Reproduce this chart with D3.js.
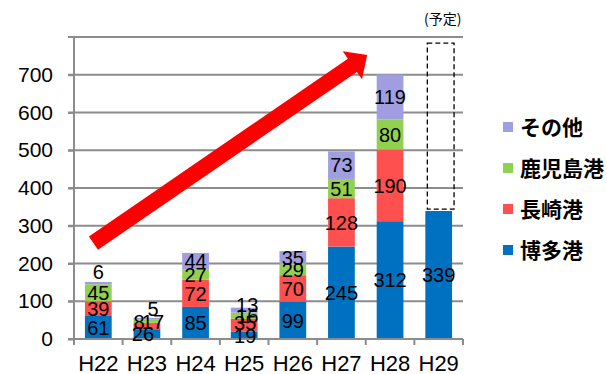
<!DOCTYPE html>
<html>
<head>
<meta charset="utf-8">
<script src="https://cdn.jsdelivr.net/npm/d3@7"></script>
<style>
  body { margin: 0; background: #fff; }
  svg { display: block; font-family: "Liberation Sans", Arial, sans-serif; }
</style>
</head>
<body>
<svg id="chart" width="607" height="374"></svg>
<script>
var categories = ['H22', 'H23', 'H24', 'H25', 'H26', 'H27', 'H28', 'H29'];
var hakata    = [61, 26, 85, 19, 99, 245, 312, 339];
var nagasaki  = [39, 17, 72, 35, 70, 128, 190, null];
var kagoshima = [45, 8, 27, 16, 29, 51, 80, null];
var other     = [6, 5, 44, 13, 35, 73, 119, null];
var seriesNames = ['博多港', '長崎港', '鹿児島港', 'その他'];
var seriesColors = ['#0070c0', '#ff5050', '#92d050', '#a09ee0'];
var yTicks = [0, 100, 200, 300, 400, 500, 600, 700];
var gridTicks = [100, 200, 300, 400, 500, 600, 700, 800];
var planTotal = 784;      // dashed H29 frame
var planLabel = '(予定)';

// a few labels were nudged by hand in the original
var nudge = {
	'H22-3': [0, -11],
	'H23-0': [-4, 0],
	'H23-1': [6, -4],
	'H23-2': [-8, 1],
	'H23-3': [6, -10],
	'H25-0': [1, 0],
	'H25-1': [1, -2],
	'H25-2': [3, 0],
	'H25-3': [3, -5]
};

var series = [hakata, nagasaki, kagoshima, other];
var rows = categories.map((c, i) => {
	var r = {cat: c};
	series.forEach((s, k) => r[k] = s[i] || 0);
	return r;
});

var svg = d3.select('#chart');

var x = d3.scaleBand()
	.domain(categories)
	.range([74, 463])
	.paddingInner(0.45)
	.paddingOuter(0.225);

var y = d3.scaleLinear()
	.domain([0, 800])
	.range([339, 37]);

var gray = '#8c8c8c';

// gridlines
svg.append('g')
	.selectAll('line')
	.data(gridTicks)
	.enter()
	.append('line')
	.attr('x1', 68)
	.attr('x2', 463)
	.attr('y1', d => y(d))
	.attr('y2', d => y(d))
	.attr('stroke', gray)
	.attr('stroke-width', 2);

// y axis
var yAxis = svg.append('g')
	.attr('transform', 'translate(74,0)')
	.call(d3.axisLeft(y).tickValues(yTicks).tickSize(6).tickPadding(15));
yAxis.select('.domain').remove();
yAxis.selectAll('line').attr('stroke', gray).attr('stroke-width', 2);
yAxis.selectAll('text').attr('font-size', 21).attr('fill', '#000')
	.attr('font-family', '"Liberation Sans", Arial, sans-serif');
svg.append('line')
	.attr('x1', 74).attr('x2', 74)
	.attr('y1', y(800)).attr('y2', y(0) + 6)
	.attr('stroke', gray).attr('stroke-width', 2);

// stacked bars
var stack = d3.stack().keys([0, 1, 2, 3]);
var stacked = stack(rows);

var layers = svg.append('g')
	.selectAll('g')
	.data(stacked)
	.enter()
	.append('g')
	.attr('fill', (d, i) => seriesColors[i]);

layers.selectAll('rect')
	.data(d => d.filter(p => p[1] > p[0]))
	.enter()
	.append('rect')
	.attr('x', d => x(d.data.cat))
	.attr('width', x.bandwidth())
	.attr('y', d => y(d[1]))
	.attr('height', d => y(d[0]) - y(d[1]));

// dashed planned frame for H29
var last = categories[categories.length - 1];
svg.append('rect')
	.attr('x', x(last) + 2)
	.attr('width', x.bandwidth())
	.attr('y', y(planTotal))
	.attr('height', y(hakata[hakata.length - 1]) - y(planTotal) - 2)
	.attr('fill', 'none')
	.attr('stroke', '#000')
	.attr('stroke-width', 1.3)
	.attr('stroke-dasharray', '5,3');

svg.append('text')
	.attr('x', x(last) + x.bandwidth() / 2 + 4)
	.attr('y', 24)
	.attr('text-anchor', 'middle')
	.attr('font-size', 14)
	.attr('font-family', '"Noto Sans CJK JP", sans-serif')
	.text(planLabel);

// x axis
svg.append('line')
	.attr('x1', 68).attr('x2', 463)
	.attr('y1', y(0)).attr('y2', y(0))
	.attr('stroke', gray).attr('stroke-width', 2);
svg.append('g')
	.selectAll('line')
	.data(d3.range(categories.length + 1))
	.enter()
	.append('line')
	.attr('x1', i => x.range()[0] + i * x.step())
	.attr('x2', i => x.range()[0] + i * x.step())
	.attr('y1', y(0))
	.attr('y2', y(0) + 6)
	.attr('stroke', gray)
	.attr('stroke-width', 2);
svg.append('g')
	.selectAll('text')
	.data(categories)
	.enter()
	.append('text')
	.attr('x', d => x(d) + x.bandwidth() / 2)
	.attr('y', 371)
	.attr('text-anchor', 'middle')
	.attr('font-size', 22)
	.text(d => d);

// arrow, placed in data space
var arrowFrom = [0.4, 254];
var arrowTo = [6.03, 752];
var bx = i => x.range()[0] + x.step() * i;
(function() {
	var x0 = bx(arrowFrom[0]), y0 = y(arrowFrom[1]);
	var x1 = bx(arrowTo[0]), y1 = y(arrowTo[1]);
	var len = Math.hypot(x1 - x0, y1 - y0);
	var ux = (x1 - x0) / len, uy = (y1 - y0) / len;
	var nx = -uy, ny = ux;
	var sw = 8, hw = 17, hl = 18;
	var bxp = x1 - ux * hl, byp = y1 - uy * hl;
	var pts = [
		[x0 + nx * sw, y0 + ny * sw],
		[bxp + nx * sw, byp + ny * sw],
		[bxp + nx * hw, byp + ny * hw],
		[x1, y1],
		[bxp - nx * hw, byp - ny * hw],
		[bxp - nx * sw, byp - ny * sw],
		[x0 - nx * sw, y0 - ny * sw]
	];
	svg.append('polygon')
		.attr('points', pts.map(p => p.join(',')).join(' '))
		.attr('fill', '#ff0000');
})();

// data labels
stacked.forEach((layer, k) => {
	svg.append('g')
		.selectAll('text')
		.data(layer.filter((p, i) => series[k][i] != null))
		.enter()
		.append('text')
		.attr('x', d => {
			var n = nudge[d.data.cat + '-' + k] || [0, 0];
			return x(d.data.cat) + x.bandwidth() / 2 + n[0];
		})
		.attr('y', d => {
			var n = nudge[d.data.cat + '-' + k] || [0, 0];
			return (y(d[0]) + y(d[1])) / 2 + n[1];
		})
		.attr('dy', '0.36em')
		.attr('text-anchor', 'middle')
		.attr('font-size', 20)
		.text(d => d[1] - d[0]);
});

// legend
var legendOrder = [3, 2, 1, 0];
var lg = svg.append('g')
	.selectAll('g')
	.data(legendOrder)
	.enter()
	.append('g')
	.attr('transform', (d, i) => `translate(503,${127 + i * 41})`);
lg.append('rect')
	.attr('y', -5)
	.attr('width', 10)
	.attr('height', 10)
	.attr('fill', d => seriesColors[d]);
lg.append('text')
	.attr('x', 17)
	.attr('dy', '0.36em')
	.attr('font-size', 21)
	.attr('font-weight', 'bold')
	.attr('font-family', '"Noto Sans CJK JP", sans-serif')
	.text(d => seriesNames[d]);
</script>
</body>
</html>
